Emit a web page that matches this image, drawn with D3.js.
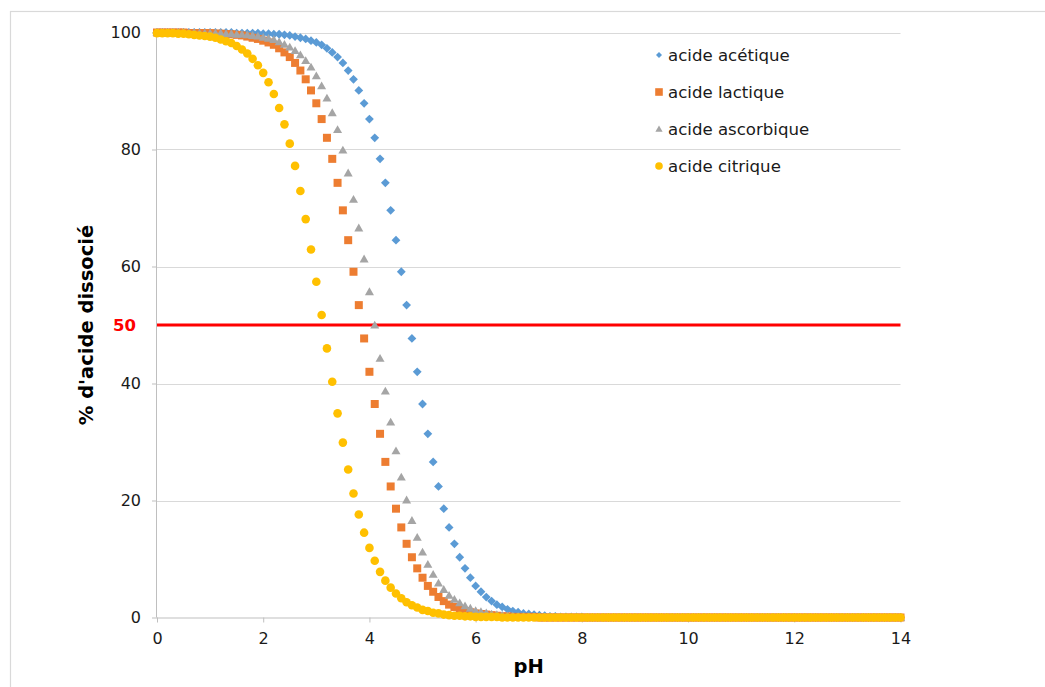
<!DOCTYPE html>
<html><head><meta charset="utf-8">
<script src="https://cdn.jsdelivr.net/npm/d3@7"></script>
<style>body{margin:0;background:#fff;} svg{display:block;font-family:"DejaVu Sans",Verdana,sans-serif;}</style>
</head><body><svg id="c" width="1045" height="687"></svg>
<script>
const pH = [
0,0.1,0.2,0.3,0.4,0.5,0.6,0.7,0.8,0.9,
1,1.1,1.2,1.3,1.4,1.5,1.6,1.7,1.8,1.9,
2,2.1,2.2,2.3,2.4,2.5,2.6,2.7,2.8,2.9,
3,3.1,3.2,3.3,3.4,3.5,3.6,3.7,3.8,3.9,
4,4.1,4.2,4.3,4.4,4.5,4.6,4.7,4.8,4.9,
5,5.1,5.2,5.3,5.4,5.5,5.6,5.7,5.8,5.9,
6,6.1,6.2,6.3,6.4,6.5,6.6,6.7,6.8,6.9,
7,7.1,7.2,7.3,7.4,7.5,7.6,7.7,7.8,7.9,
8,8.1,8.2,8.3,8.4,8.5,8.6,8.7,8.8,8.9,
9,9.1,9.2,9.3,9.4,9.5,9.6,9.7,9.8,9.9,
10,10.1,10.2,10.3,10.4,10.5,10.6,10.7,10.8,10.9,
11,11.1,11.2,11.3,11.4,11.5,11.6,11.7,11.8,11.9,
12,12.1,12.2,12.3,12.4,12.5,12.6,12.7,12.8,12.9,
13,13.1,13.2,13.3,13.4,13.5,13.6,13.7,13.8,13.9,
14];

const acetique = [
100,100,100,100,100,100,100,100,100,100,
100,100,100,100,100,99.9,99.9,99.9,99.9,99.9,
99.8,99.8,99.7,99.7,99.6,99.5,99.3,99.1,98.9,98.6,
98.3,97.9,97.3,96.6,95.8,94.8,93.5,92.0,90.1,87.9,
85.2,82.0,78.4,74.3,69.6,64.5,59.1,53.4,47.7,42.0,
36.5,31.4,26.6,22.4,18.6,15.4,12.6,10.3,8.4,6.8,
5.4,4.4,3.5,2.8,2.2,1.8,1.4,1.1,0.9,0.7,
0.6,0.5,0.4,0.3,0.2,0.2,0.1,0.1,0.1,0.1,
0.1,0,0,0,0,0,0,0,0,0,
0,0,0,0,0,0,0,0,0,0,
0,0,0,0,0,0,0,0,0,0,
0,0,0,0,0,0,0,0,0,0,
0,0,0,0,0,0,0,0,0,0,
0,0,0,0,0,0,0,0,0,0,
0];

const lactique = [
100,100,100,100,100,100,99.9,99.9,99.9,99.9,
99.9,99.8,99.8,99.7,99.7,99.6,99.5,99.3,99.1,98.9,
98.6,98.3,97.9,97.3,96.6,95.8,94.8,93.5,92.0,90.1,
87.9,85.2,82.0,78.4,74.3,69.6,64.5,59.1,53.4,47.7,
42.0,36.5,31.4,26.6,22.4,18.6,15.4,12.6,10.3,8.4,
6.8,5.4,4.4,3.5,2.8,2.2,1.8,1.4,1.1,0.9,
0.7,0.6,0.5,0.4,0.3,0.2,0.2,0.1,0.1,0.1,
0.1,0.1,0,0,0,0,0,0,0,0,
0,0,0,0,0,0,0,0,0,0,
0,0,0,0,0,0,0,0,0,0,
0,0,0,0,0,0,0,0,0,0,
0,0,0,0,0,0,0,0,0,0,
0,0,0,0,0,0,0,0,0,0,
0,0,0,0,0,0,0,0,0,0,
0];

const ascorbique = [
100,100,100,100,100,100,100,100,99.9,99.9,
99.9,99.9,99.9,99.8,99.8,99.7,99.7,99.6,99.5,99.4,
99.2,99.0,98.8,98.4,98.0,97.5,96.9,96.2,95.2,94.1,
92.6,90.9,88.8,86.3,83.4,79.9,76.0,71.5,66.6,61.3,
55.7,50.0,44.3,38.7,33.4,28.5,24.0,20.1,16.6,13.7,
11.2,9.1,7.4,5.9,4.8,3.8,3.1,2.5,2.0,1.6,
1.2,1.0,0.8,0.6,0.5,0.4,0.3,0.3,0.2,0.2,
0.1,0.1,0.1,0.1,0,0,0,0,0,0,
0,0,0,0,0,0,0,0,0,0,
0,0,0,0,0,0,0,0,0,0,
0,0,0,0,0,0,0,0,0,0,
0,0,0,0,0,0,0,0,0,0,
0,0,0,0,0,0,0,0,0,0,
0,0,0,0,0,0,0,0,0,0,
0];

const citrique = [
99.9,99.9,99.9,99.9,99.8,99.8,99.7,99.6,99.5,99.4,
99.3,99.1,98.8,98.5,98.2,97.7,97.1,96.4,95.5,94.4,
93.1,91.5,89.5,87.1,84.3,81.0,77.2,72.9,68.1,62.9,
57.4,51.7,46.0,40.3,34.9,29.9,25.3,21.2,17.6,14.5,
11.9,9.7,7.8,6.3,5.1,4.1,3.3,2.6,2.1,1.7,
1.3,1.1,0.8,0.7,0.5,0.4,0.3,0.3,0.2,0.2,
0.1,0.1,0.1,0.1,0.1,0,0,0,0,0,
0,0,0,0,0,0,0,0,0,0,
0,0,0,0,0,0,0,0,0,0,
0,0,0,0,0,0,0,0,0,0,
0,0,0,0,0,0,0,0,0,0,
0,0,0,0,0,0,0,0,0,0,
0,0,0,0,0,0,0,0,0,0,
0,0,0,0,0,0,0,0,0,0,
0];

const seriesNames = ["acide acétique","acide lactique","acide ascorbique","acide citrique"];
const xTicks = [0,2,4,6,8,10,12,14];
const yTicks = [0,20,40,60,80,100];
const refValue = 50;
const xTitle = "pH";
const yTitle = "% d'acide dissocié";

const seriesData = [acetique, lactique, ascorbique, citrique];
const colors = ["#5B9BD5","#ED7D31","#A5A5A5","#FFC000"];
const shapes = ["diamond","square","triangle","circle"];

const svg = d3.select("#c");
const x = d3.scaleLinear().domain([0,14]).range([157,900.5]);
const y = d3.scaleLinear().domain([0,100]).range([617.5,32.5]);

// outer frame
svg.append("rect").attr("x",10.5).attr("y",11.5).attr("width",1060).attr("height",700)
  .attr("fill","#fff").attr("stroke","#d9d9d9").attr("stroke-width",1.2);

// gridlines
svg.append("g").selectAll("line").data(yTicks.filter(d=>d>0)).join("line")
  .attr("x1",x(0)).attr("x2",x(14))
  .attr("y1",d=>Math.round(y(d))+0.5).attr("y2",d=>Math.round(y(d))+0.5)
  .attr("stroke","#d9d9d9").attr("stroke-width",1);

// y axis
const yAxis = d3.axisLeft(y).tickValues(yTicks).tickSize(5).tickPadding(11).tickFormat(d3.format("d"));
const gy = svg.append("g").attr("transform",`translate(${x(0)},0)`).call(yAxis);
gy.select(".domain").attr("stroke","#bfbfbf").attr("d",`M-0.5,${y(100)}V${y(0)}`);
gy.selectAll(".tick line").attr("stroke","#bfbfbf").attr("x2",0).attr("x1",-5);
gy.selectAll(".tick text").attr("font-size",16).attr("fill","#1a1a1a").attr("font-family","DejaVu Sans, Verdana, sans-serif");

// x axis
const xAxis = d3.axisBottom(x).tickValues(xTicks).tickSize(5).tickPadding(10).tickFormat(d3.format("d"));
const gx = svg.append("g").attr("transform",`translate(0,${y(0)})`).call(xAxis);
gx.select(".domain").attr("stroke","#bfbfbf").attr("d",`M${x(0)},0.5H${x(14)}`);
gx.selectAll(".tick line").attr("stroke","#bfbfbf");
gx.selectAll(".tick text").attr("font-size",16).attr("fill","#1a1a1a").attr("font-family","DejaVu Sans, Verdana, sans-serif");

// reference line at 50
svg.append("line").attr("x1",x(0)).attr("x2",x(14)).attr("y1",y(refValue)).attr("y2",y(refValue))
  .attr("stroke","#FF0000").attr("stroke-width",3);
svg.append("text").attr("x",136).attr("y",y(refValue)+6).attr("text-anchor","end")
  .attr("font-size",16.5).attr("font-weight","bold").attr("fill","#FF0000").text(refValue);

function markerPath(shape, s){
  if(shape==="diamond") return `M0,${-s}L${s},0L0,${s}L${-s},0Z`;
  if(shape==="square") return `M${-s},${-s}H${s}V${s}H${-s}Z`;
  if(shape==="triangle") return `M0,${-s*1.05}L${s*1.1},${s*0.85}L${-s*1.1},${s*0.85}Z`;
  const p = d3.path(); p.arc(0,0,s,0,2*Math.PI); return p.toString();
}
const mSize = [4.4,4,4.1,4.3];

seriesData.forEach((vals,i)=>{
  svg.append("g").selectAll("path").data(vals).join("path")
    .attr("d",markerPath(shapes[i],mSize[i]))
    .attr("transform",(d,k)=>`translate(${x(pH[k])},${y(d)})`)
    .attr("fill",colors[i]);
});

// legend
const lsize = [3,3.8,3.3,3.8];
const lg = svg.append("g");
seriesNames.forEach((name,i)=>{
  const cy = 55 + i*37;
  lg.append("path").attr("d",markerPath(shapes[i],lsize[i])).attr("transform",`translate(659,${cy})`).attr("fill",colors[i]);
  lg.append("text").attr("x",668).attr("y",cy+5.5).attr("font-size",16.6).attr("fill","#1a1a1a").text(name);
});

// axis titles
svg.append("text").attr("x",(x(0)+x(14))/2).attr("y",673).attr("text-anchor","middle")
  .attr("font-size",19.5).attr("font-weight","bold").attr("fill","#000").text(xTitle);
svg.append("text").attr("transform",`translate(93,${(y(0)+y(100))/2}) rotate(-90)`).attr("text-anchor","middle")
  .attr("font-size",19.5).attr("font-weight","bold").attr("fill","#000").text(yTitle);
</script>
</body></html>
